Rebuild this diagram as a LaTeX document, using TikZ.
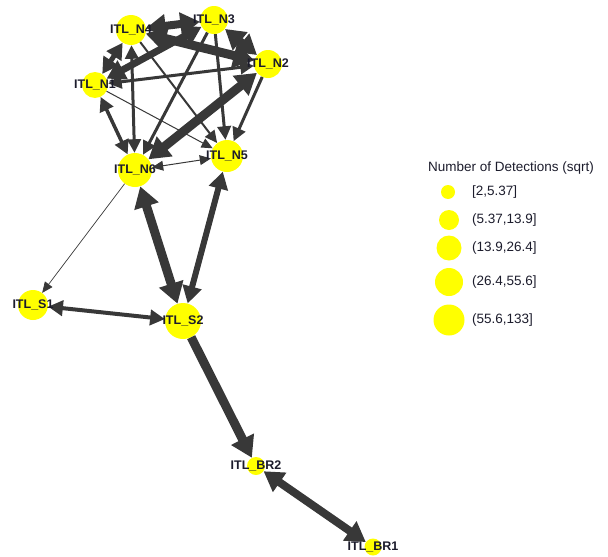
\documentclass[tikz,border=0pt]{standalone}
\usepackage{fontspec}
\setmainfont{Liberation Sans}
\usetikzlibrary{arrows.meta}
\definecolor{edgec}{HTML}{383838}
\definecolor{nodey}{HTML}{FFFF00}
\definecolor{labc}{HTML}{1C1C2C}
\begin{document}
\begin{tikzpicture}[x=1pt,y=-1pt,
  stn/.style={circle,fill=nodey,inner sep=0pt,minimum size=#1},
  lab/.style={font=\fontsize{12.5}{13}\selectfont\bfseries,text=labc,inner sep=0pt},
  edg/.style={draw=edgec,line width=#1,line cap=butt},
  tip/.style={-{Triangle[length=10pt 1.2,width=8pt 1.8]}},
  both/.style={{Triangle[length=10pt 1.2,width=8pt 1.8]}-{Triangle[length=10pt 1.2,width=8pt 1.8]}},
  legt/.style={font=\fontsize{13.5}{14}\selectfont,text=labc,anchor=west,inner sep=0pt}]
\useasboundingbox (0,0) rectangle (608,557);
% stations
\node[stn=30pt] (n4) at (131,30) {};
\node[stn=28pt] (n3) at (214,20) {};
\node[stn=28pt] (n2) at (268,64) {};
\node[stn=26pt] (n1) at (95,85) {};
\node[stn=34pt] (n6) at (135,170) {};
\node[stn=32pt] (n5) at (227,156) {};
\node[stn=30pt] (s1) at (33,305) {};
\node[stn=36pt] (s2) at (183,321) {};
\node[stn=18pt] (br2) at (256,466) {};
\node[stn=17pt] (br1) at (373,547) {};
% edges
\draw[edg=8,both] (n4) -- (n3);
\draw[edg=8,both] (n3) -- (n2);
\draw[edg=9,both] (n4) -- (n2);
\draw[edg=7,both] (n1) -- (n3);
\draw[edg=5,both] (n1) -- (n4);
\draw[edg=3,both] (n1) -- (n2);
\draw[edg=3.5,both] (n1) -- (n6);
\draw[edg=3,both] (n4) -- (n6);
\draw[edg=2,tip] (n4) -- (n5);
\draw[edg=3,tip] (n3) -- (n6);
\draw[edg=3,tip] (n3) -- (n5);
\draw[edg=9,both] (n2) -- (n6);
\draw[edg=3,tip] (n2) -- (n5);
\draw[edg=1,tip] (n1) -- (n5);
\draw[edg=1,both] (n5) -- (n6);
\draw[edg=0.7,tip] (n6) -- (s1);
\draw[edg=9,both] (n6) -- (s2);
\draw[edg=6,both] (n5) -- (s2);
\draw[edg=4,both] (s1) -- (s2);
\draw[edg=9,tip] (s2) -- (br2);
\draw[edg=8,both] (br2) -- (br1);
% labels
\node[lab] (l4) at (n4) {ITL\_N4};
\node[lab] (l3) at (n3) {ITL\_N3};
\node[lab] (l2) at (n2) {ITL\_N2};
\node[lab] (l1) at (n1) {ITL\_N1};
\node[lab] (l6) at (n6) {ITL\_N6};
\node[lab] (l5) at (n5) {ITL\_N5};
\node[lab] (ls1) at (s1) {ITL\_S1};
\node[lab] (ls2) at (s2) {ITL\_S2};
\node[lab] (lbr2) at (br2) {ITL\_BR2};
\node[lab] (lbr1) at (br1) {ITL\_BR1};
% legend
\node[legt] (lgt) at (428,168) {Number of Detections (sqrt)};
\node[stn=14pt] (g1) at (448,192) {};
\node[stn=20pt] (g2) at (449,220) {};
\node[stn=25pt] (g3) at (449,248) {};
\node[stn=28pt] (g4) at (449,282) {};
\node[stn=31pt] (g5) at (449,320) {};
\node[legt] (t1) at (472,192) {[2,5.37]};
\node[legt] (t2) at (472,220) {(5.37,13.9]};
\node[legt] (t3) at (472,248) {(13.9,26.4]};
\node[legt] (t4) at (472,282) {(26.4,55.6]};
\node[legt] (t5) at (472,320) {(55.6,133]};
\end{tikzpicture}
\end{document}
